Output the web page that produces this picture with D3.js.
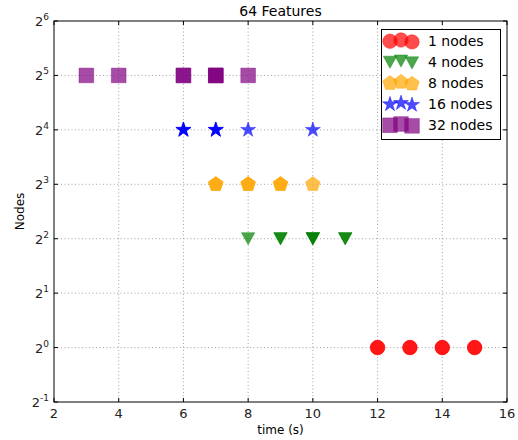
<!DOCTYPE html>
<html>
<head>
<meta charset="utf-8">
<script src="https://cdn.jsdelivr.net/npm/d3@7"></script>
<style>
  body { margin: 0; background: #fff; }
  svg { font-family: "DejaVu Sans", sans-serif; }
</style>
</head>
<body>
<svg id="chart" width="518" height="440"></svg>
<script>
(function(){

  // data (repeated times = overlapping points)
  const seriesNames = ["1 nodes", "4 nodes", "8 nodes", "16 nodes", "32 nodes"];
  const seriesNodes = [1, 4, 8, 16, 32];
  const times1  = [12, 12, 13, 13, 14, 14, 15, 15];
  const times4  = [8, 9, 9, 10, 10, 10, 11, 11];
  const times8  = [7, 7, 8, 8, 9, 9, 10];
  const times16 = [6, 6, 6, 7, 7, 7, 8, 10];
  const times32 = [3, 4, 6, 6, 7, 7, 7, 8];
  const seriesColors = ["#ff0000", "#008000", "#ffa500", "#0000ff", "#800080"];
  const xTicks = [2, 4, 6, 8, 10, 12, 14, 16];
  const yExps = [-1, 0, 1, 2, 3, 4, 5, 6];

  const allTimes = [times1, times4, times8, times16, times32];

  const svg = d3.select("#chart");
  const L = 54, R = 507, T = 21, B = 402;

  const x = d3.scaleLinear().domain([2, 16]).range([L, R]);
  const y = d3.scaleLog().base(2).domain([0.5, 64]).range([B, T]);

  // custom marker shapes
  const pentagon = {
    draw(ctx, size){
      const r = Math.sqrt(size / 2.3776);
      for(let i = 0; i < 5; i++){
        const a = -Math.PI/2 + i*2*Math.PI/5;
        const px = r*Math.cos(a), py = r*Math.sin(a);
        if(i === 0) ctx.moveTo(px, py); else ctx.lineTo(px, py);
      }
      ctx.closePath();
    }
  };
  const triDown = {
    draw(ctx, size){
      const h = Math.sqrt(size / 0.75);
      ctx.moveTo(-h*0.55, -h*0.5);
      ctx.lineTo(h*0.55, -h*0.5);
      ctx.lineTo(0, h*0.5);
      ctx.closePath();
    }
  };
  const shapes = [
    d3.symbol(d3.symbolCircle, 165),
    d3.symbol(triDown, 110),
    d3.symbol(pentagon, 140),
    d3.symbol(d3.symbolStar, 70),
    d3.symbol(d3.symbolSquare, 215)
  ];

  // grid
  const grid = svg.append("g")
    .attr("stroke", "#000").attr("stroke-width", 0.6)
    .attr("stroke-dasharray", "1,2.5").attr("opacity", 0.6);
  grid.selectAll("line.gx").data(xTicks.slice(1, -1)).join("line")
    .attr("x1", d => x(d)).attr("x2", d => x(d)).attr("y1", T).attr("y2", B);
  grid.selectAll("line.gy").data(yExps.slice(1, -1)).join("line")
    .attr("y1", d => y(2**d)).attr("y2", d => y(2**d)).attr("x1", L).attr("x2", R);

  // points
  allTimes.forEach((ts, si) => {
    svg.append("g").selectAll("path").data(ts).join("path")
      .attr("d", shapes[si])
      .attr("transform", d => `translate(${x(d)},${y(seriesNodes[si])})`)
      .attr("fill", seriesColors[si])
      .attr("stroke", seriesColors[si])
      .attr("stroke-width", 1)
      .attr("fill-opacity", 0.7)
      .attr("stroke-opacity", 0.4);
  });

  // frame and inward ticks
  svg.append("rect").attr("x", L).attr("y", T).attr("width", R-L).attr("height", B-T)
    .attr("fill", "none").attr("stroke", "#000").attr("stroke-width", 1);
  const tk = svg.append("g").attr("stroke", "#000").attr("stroke-width", 1);
  xTicks.forEach(v => {
    tk.append("line").attr("x1", x(v)).attr("x2", x(v)).attr("y1", B).attr("y2", B-4);
    tk.append("line").attr("x1", x(v)).attr("x2", x(v)).attr("y1", T).attr("y2", T+4);
  });
  yExps.forEach(e => {
    tk.append("line").attr("y1", y(2**e)).attr("y2", y(2**e)).attr("x1", L).attr("x2", L+4);
    tk.append("line").attr("y1", y(2**e)).attr("y2", y(2**e)).attr("x1", R).attr("x2", R-4);
  });

  // x tick labels
  svg.append("g").selectAll("text").data(xTicks).join("text")
    .attr("x", d => x(d)).attr("y", B + 16)
    .attr("text-anchor", "middle").attr("font-size", 13).attr("fill", "#222")
    .text(d => d);

  // y tick labels 2^n
  const yl = svg.append("g").selectAll("text").data(yExps).join("text")
    .attr("x", L - 5).attr("y", d => y(2**d) + 5)
    .attr("text-anchor", "end").attr("font-size", 13).attr("fill", "#222");
  yl.append("tspan").text("2");
  yl.append("tspan").attr("font-size", 9).attr("dy", -6).text(d => d);

  // titles
  svg.append("text").attr("x", (L+R)/2).attr("y", 16)
    .attr("text-anchor", "middle").attr("font-size", 14).text("64 Features");
  svg.append("text").attr("x", (L+R)/2).attr("y", 434)
    .attr("text-anchor", "middle").attr("font-size", 12).text("time (s)");
  svg.append("text").attr("transform", `translate(24,${(T+B)/2}) rotate(-90)`)
    .attr("text-anchor", "middle").attr("font-size", 12).text("Nodes");

  // legend
  const lg = svg.append("g");
  lg.append("rect").attr("x", 381.5).attr("y", 29.5).attr("width", 119).attr("height", 110)
    .attr("fill", "#fff").attr("stroke", "#000").attr("stroke-width", 1);
  const yOffs = [0.375, 0.5, 0.3125];
  seriesNames.forEach((name, si) => {
    const cy = 41 + si*21;
    yOffs.forEach((o, k) => {
      lg.append("path").attr("d", shapes[si])
        .attr("transform", `translate(${390 + k*11},${cy + 4 - o*10})`)
        .attr("fill", seriesColors[si]).attr("stroke", seriesColors[si])
        .attr("fill-opacity", 0.7).attr("stroke-opacity", 0.4);
    });
    lg.append("text").attr("x", 428).attr("y", cy + 5)
      .attr("font-size", 14).text(name);
  });

})();
</script>
</body>
</html>
